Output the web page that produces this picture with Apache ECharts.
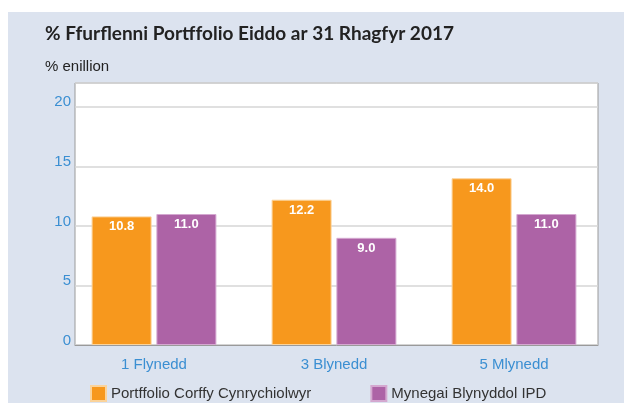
<!DOCTYPE html>
<html>
<head>
<meta charset="utf-8">
<script src="https://cdn.jsdelivr.net/npm/echarts@6/dist/echarts.min.js"></script>
<style>
  html, body { margin: 0; padding: 0; background: #fff; }
  #chart { width: 624px; height: 403px; }
</style>
</head>
<body>
<div id="chart"></div>
<script>
var dom = document.getElementById('chart');
var myChart = echarts.init(dom);

var categories = ['1 Flynedd', '3 Blynedd', '5 Mlynedd'];
var portfolio = [10.8, 12.2, 14.0];
var ipd = [11.0, 9.0, 11.0];
var seriesNames = ['Portffolio Corffy Cynrychiolwyr', 'Mynegai Blynyddol IPD'];

var blue = '#3b8fd2';
var sans = 'Liberation Sans, Arial, sans-serif';

var barLabel = {
    show: true,
    position: 'insideTop',
    distance: 4,
    color: '#fff',
    fontWeight: 'bold',
    fontSize: 13,
    fontFamily: sans,
    formatter: function (p) { return p.value.toFixed(1); }
};

var option = {
    animation: false,
    graphic: [{
        type: 'rect',
        left: 8, top: 12,
        shape: { width: 616, height: 391 },
        style: { fill: '#dce3ef' },
        z: -10
    }, {
        type: 'text',
        left: 45, top: 24,
        style: {
            text: '% Ffurflenni Portffolio Eiddo ar 31 Rhagfyr 2017',
            font: 'bold 19px Lato, sans-serif',
            fill: '#222'
        }
    }, {
        type: 'text',
        left: 45, top: 59,
        style: {
            text: '% enillion',
            font: '15px "Liberation Sans", Arial, sans-serif',
            fill: '#222'
        }
    }],
    grid: [{
        // visible plot box
        left: 75, right: 26, top: 83, bottom: 58,
        show: true,
        backgroundColor: '#fff',
        borderColor: '#9a9a9a',
        borderWidth: 1
    }, {
        // bars and category labels
        left: 64, right: 20, top: 83, bottom: 58
    }],
    legend: {
        left: 85, top: 380,
        itemWidth: 15, itemHeight: 15,
        itemGap: 59,
        icon: 'rect',
        data: seriesNames,
        textStyle: { color: '#333', fontSize: 15, fontFamily: sans }
    },
    xAxis: [{
        gridIndex: 0,
        type: 'category',
        data: categories,
        axisLine: { show: true, lineStyle: { color: '#9a9a9a' } },
        axisTick: { show: false },
        axisLabel: { show: false }
    }, {
        gridIndex: 1,
        type: 'category',
        data: categories,
        axisLine: { show: false },
        axisTick: { show: false },
        axisLabel: { color: blue, fontSize: 15, margin: 12, fontFamily: sans }
    }],
    yAxis: [{
        gridIndex: 0,
        type: 'value',
        min: 0, max: 22, interval: 5,
        axisLine: { show: false },
        axisTick: { show: false },
        axisLabel: {
            color: blue, fontSize: 15, margin: 4,
            fontFamily: sans,
            verticalAlign: 'bottom',
            lineHeight: 9,
            formatter: function (v) { return v % 5 === 0 ? v : ''; }
        },
        splitLine: { lineStyle: { color: '#d6d6d6', width: 1.5 } }
    }, {
        gridIndex: 1,
        type: 'value',
        min: 0, max: 22,
        show: false,
        splitLine: { show: false }
    }],
    series: [{
        name: seriesNames[0],
        type: 'bar',
        xAxisIndex: 1, yAxisIndex: 1,
        data: portfolio,
        barWidth: 60,
        barGap: '8%',
        itemStyle: { color: '#f7981d', borderColor: '#fbd39a', borderWidth: 1 },
        label: barLabel
    }, {
        name: seriesNames[1],
        type: 'bar',
        xAxisIndex: 1, yAxisIndex: 1,
        data: ipd,
        barWidth: 60,
        itemStyle: { color: '#ad63a6', borderColor: '#d4a8d0', borderWidth: 1 },
        label: barLabel
    }]
};

myChart.setOption(option);
</script>
</body>
</html>
